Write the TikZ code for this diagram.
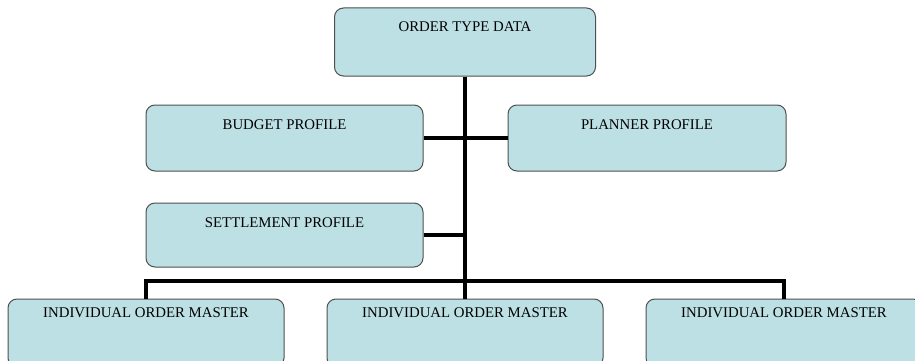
\documentclass[tikz,border=0pt]{standalone}
\usepackage{fontspec}
\setmainfont{Liberation Serif}
\definecolor{boxfill}{RGB}{188,224,228}
\definecolor{boxline}{RGB}{80,80,80}
\tikzset{
  orgbox/.style={draw=boxline, line width=1pt, fill=boxfill, rounded corners=9pt,
    font=\fontsize{14.8}{17}\selectfont, inner xsep=4pt, inner ysep=0pt, text height=10pt},
  conn/.style={draw=black, line width=4pt, line join=miter}
}
\begin{document}
\begin{tikzpicture}[x=1pt,y=-1pt]
\useasboundingbox (0,0) rectangle (915,361);
\clip (0,0) rectangle (915,361);
\fill[white] (0,0) rectangle (915,361);
\node[orgbox, minimum width=261pt, minimum height=68pt, text depth=30pt] (top) at (465,42) {ORDER TYPE DATA};
\node[orgbox, minimum width=277pt, minimum height=66pt, text depth=28pt] (budget) at (284.5,138) {BUDGET PROFILE};
\node[orgbox, minimum width=278pt, minimum height=66pt, text depth=28pt] (planner) at (647,138) {PLANNER PROFILE};
\node[orgbox, minimum width=277pt, minimum height=64pt, text depth=26pt] (settle) at (284.5,235) {SETTLEMENT PROFILE};
\node[orgbox, minimum width=276pt, minimum height=68pt, text depth=42pt] (bot1) at (146,333) {INDIVIDUAL ORDER MASTER};
\node[orgbox, minimum width=276pt, minimum height=68pt, text depth=42pt] (bot2) at (465,333) {INDIVIDUAL ORDER MASTER};
\node[orgbox, minimum width=276pt, minimum height=68pt, text depth=42pt] (bot3) at (784,333) {INDIVIDUAL ORDER MASTER};
\coordinate (hub) at (465,281);
\draw[conn] (top.south) -- (bot2.north);
\draw[conn] (budget.east) -- (budget.east -| top.south);
\draw[conn] (planner.west) -- (planner.west -| top.south);
\draw[conn] (settle.east) -- (settle.east -| top.south);
\draw[conn] (bot1.north) |- (hub) -| (bot3.north);
\end{tikzpicture}
\end{document}
